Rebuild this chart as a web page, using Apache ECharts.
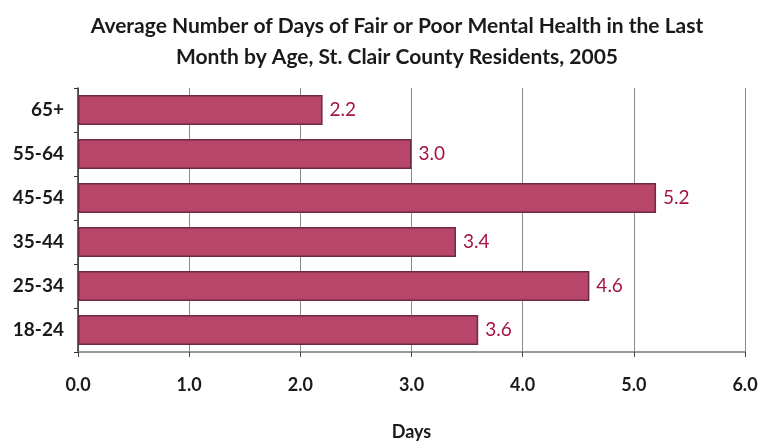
<!DOCTYPE html>
<html>
<head>
<meta charset="utf-8">
<script src="https://cdn.jsdelivr.net/npm/echarts@6/dist/echarts.min.js"></script>
<style>
  html, body { margin: 0; padding: 0; background: #fff; }
  #chart { width: 760px; height: 443px; }
</style>
</head>
<body>
<div id="chart"></div>
<script>
// age groups, bottom to top
var ageGroups = ['18-24', '25-34', '35-44', '45-54', '55-64', '65+'];
var avgDays = [3.6, 4.6, 3.4, 5.2, 3.0, 2.2];
var dayTicks = ['0.0', '1.0', '2.0', '3.0', '4.0', '5.0', '6.0'];

var chart = echarts.init(document.getElementById('chart'));
chart.setOption({
  animation: false,
  textStyle: { fontFamily: 'Lato, "Open Sans", sans-serif' },
  title: {
    text: 'Average Number of Days of Fair or Poor Mental Health in the Last\nMonth by Age, St. Clair County Residents, 2005',
    left: 392,
    top: 6,
    textAlign: 'center',
    textStyle: { fontSize: 21, fontWeight: 'bold', color: '#1a1a1a', lineHeight: 31 }
  },
  grid: { left: 78, right: 15, top: 88, bottom: 91, outerBoundsMode: 'none', containLabel: false },
  xAxis: {
    type: 'value',
    min: 0,
    max: 6,
    interval: 1,
    name: 'Days',
    nameLocation: 'middle',
    nameGap: 71,
    nameTextStyle: { fontSize: 18, fontWeight: 'bold', color: '#1a1a1a' },
    axisLine: { show: true, lineStyle: { color: '#777', width: 1.5 } },
    axisTick: { show: true, length: 5, inside: false, lineStyle: { color: '#444' } },
    axisLabel: {
      margin: 24,
      fontSize: 18,
      fontWeight: 'bold',
      color: '#1a1a1a',
      formatter: function (v) { return dayTicks[Math.round(v)]; }
    },
    splitLine: { show: true, lineStyle: { color: '#8a8a8a', width: 1 } }
  },
  yAxis: {
    type: 'category',
    data: ageGroups,
    axisLine: { show: true, lineStyle: { color: '#333', width: 1.5 } },
    axisTick: { show: true, length: 4, lineStyle: { color: '#333' } },
    axisLabel: { fontSize: 19, fontWeight: 'bold', color: '#1a1a1a', margin: 14 }
  },
  series: [{
    type: 'bar',
    data: avgDays,
    barWidth: 30,
    itemStyle: {
      color: '#b8466a',
      borderColor: '#6e2a3e',
      borderWidth: 1.5
    },
    label: {
      show: true,
      position: 'right',
      distance: 7,
      fontSize: 19,
      color: '#a3153f',
      formatter: function (p) { return p.value.toFixed(1); }
    }
  }]
});
</script>
</body>
</html>
